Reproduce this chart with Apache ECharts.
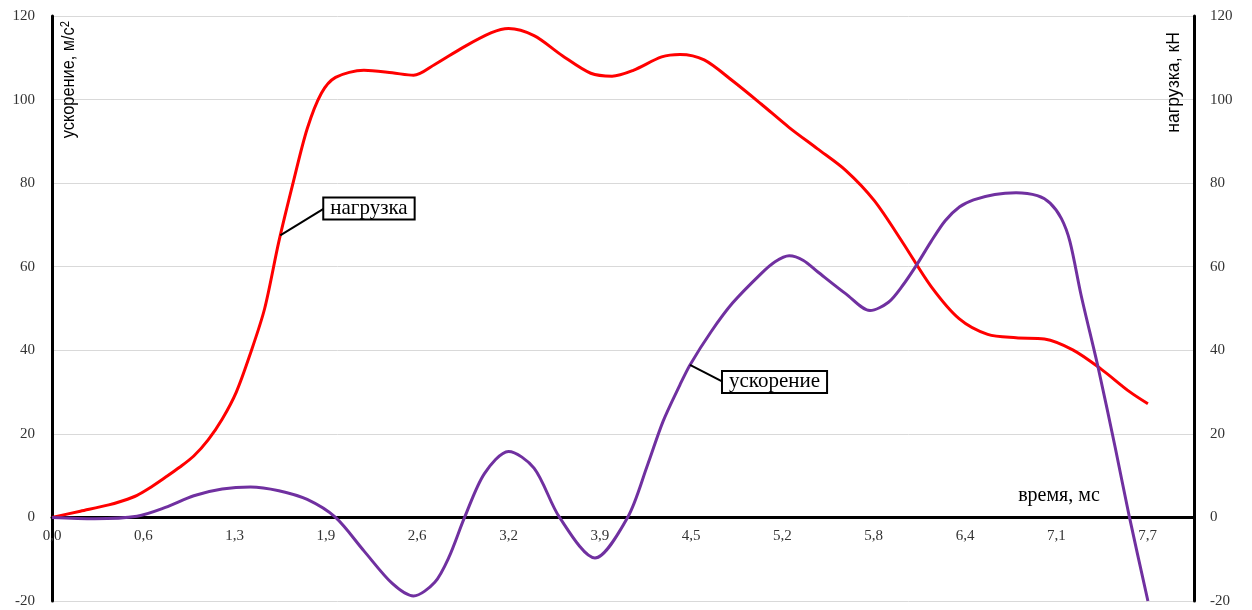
<!DOCTYPE html>
<html><head><meta charset="utf-8">
<script src="https://cdn.jsdelivr.net/npm/echarts@6/dist/echarts.min.js"></script>
<style>html,body{margin:0;padding:0;background:#fff}#c{width:1252px;height:610px}</style>
</head><body><div id="c"></div>
<script>
// X tick labels (time, ms) and their step
const xTickLabels = ['0,0','0,6','1,3','1,9','2,6','3,2','3,9','4,5','5,2','5,8','6,4','7,1','7,7'];
const xTickStep = 0.644;
const xMax = 8.055;
const yMin = -20, yMax = 120, yStep = 20;

// нагрузка, кН (red)
const loadTime  = [0, 0.2, 0.4, 0.5, 0.6, 0.7, 0.8, 0.9, 1.0, 1.1, 1.2, 1.3, 1.4, 1.5, 1.6, 1.7, 1.8, 1.9, 2.0, 2.2, 2.4, 2.55, 2.7, 2.9, 3.1, 3.22, 3.4, 3.6, 3.8, 3.95, 4.1, 4.3, 4.43, 4.6, 4.8, 5.0, 5.2, 5.4, 5.6, 5.8, 6.0, 6.2, 6.4, 6.6, 6.8, 7.0, 7.2, 7.4, 7.6, 7.73];
const loadValue = [0, 1.5, 3.0, 4.0, 5.3, 7.3, 9.6, 12.0, 14.7, 18.5, 23.5, 30, 39.3, 50, 66, 80, 93, 101.5, 105.3, 107, 106.4, 105.8, 108.4, 112.5, 116, 117, 115.3, 110.5, 106.3, 105.6, 107, 110.2, 110.8, 109.5, 104.5, 99, 93.3, 88.2, 83, 75.8, 65.8, 55.3, 47.5, 43.8, 43, 42.7, 40.1, 35.5, 30.1, 27.2];

// ускорение, м/с² (purple)
const accTime  = [0, 0.3, 0.6, 0.8, 1.0, 1.2, 1.4, 1.6, 1.8, 2.0, 2.2, 2.4, 2.55, 2.7, 2.8, 2.91, 3.05, 3.22, 3.4, 3.58, 3.83, 4.06, 4.2, 4.31, 4.43, 4.5, 4.65, 4.8, 5.0, 5.1, 5.2, 5.3, 5.4, 5.6, 5.77, 5.9, 6.0, 6.1, 6.2, 6.3, 6.4, 6.5, 6.65, 6.8, 6.95, 7.04, 7.12, 7.18, 7.26, 7.38, 7.5, 7.6, 7.73];
const accValue = [0, -0.3, 0.3, 2.4, 5.2, 6.8, 7.3, 6.4, 4.3, 0, -8, -15.8, -18.8, -15.5, -9.5, 0, 10.5, 15.8, 11.8, 0, -9.7, 0, 12.5, 23, 31.8, 36.5, 44.5, 51.3, 58.3, 61.2, 62.6, 61.5, 58.8, 53.5, 49.5, 51.5, 55.5, 60.5, 66, 71, 74.3, 76, 77.3, 77.7, 77, 75.2, 71.5, 66, 53, 35.7, 16.6, 0, -20];

// callout anchors (time, value)
const loadCallout = {text: 'нагрузка', t: 1.61, v: 67.5};
const accCallout  = {text: 'ускорение', t: 4.50, v: 36.5};

const SERIF = '"Liberation Serif","Times New Roman",serif';
const SANS = '"Liberation Sans",Arial,sans-serif';

const chart = echarts.init(document.getElementById('c'), null, {renderer: 'canvas'});
const axisLabelStyle = {fontFamily: SERIF, fontSize: 15, color: '#333'};

const gridTop = 16, gridBottom = 9;
const gridH = 610 - gridTop - gridBottom;
const zeroOffset = -gridH * (0 - yMin) / (yMax - yMin);

chart.setOption({
  animation: false,
  backgroundColor: '#fff',
  grid: {left: 52, right: 58, top: gridTop, bottom: gridBottom, containLabel: false, outerBoundsMode: 'none'},
  xAxis: {
    type: 'value', min: 0, max: xMax, interval: xTickStep, position: 'bottom', offset: zeroOffset,
    axisLine: {onZero: false, lineStyle: {color: '#000', width: 3}},
    axisTick: {show: false},
    splitLine: {show: false},
    axisLabel: Object.assign({}, axisLabelStyle, {
      margin: 11, showMaxLabel: false,
      formatter: v => { const i = Math.round(v / xTickStep); return xTickLabels[i] !== undefined && Math.abs(v - i * xTickStep) < 1e-6 ? xTickLabels[i] : ''; }
    })
  },
  yAxis: [
    {
      type: 'value', min: yMin, max: yMax, interval: yStep, position: 'left',
      axisLine: {show: true, onZero: false, lineStyle: {color: '#000', width: 3}},
      axisTick: {show: false},
      splitLine: {show: true, lineStyle: {color: '#d9d9d9', width: 1}},
      axisLabel: Object.assign({}, axisLabelStyle, {margin: 17})
    },
    {
      type: 'value', min: yMin, max: yMax, interval: yStep, position: 'right',
      axisLine: {show: true, onZero: false, lineStyle: {color: '#000', width: 3}},
      axisTick: {show: false},
      splitLine: {show: false},
      axisLabel: Object.assign({}, axisLabelStyle, {margin: 16})
    }
  ],
  series: [
    {
      name: 'нагрузка', type: 'line', yAxisIndex: 1, smooth: 0.3, showSymbol: false,
      lineStyle: {color: '#ff0000', width: 3}, itemStyle: {color: '#ff0000'},
      data: loadTime.map((t, i) => [t, loadValue[i]])
    },
    {
      name: 'ускорение', type: 'line', yAxisIndex: 0, smooth: 0.3, showSymbol: false,
      lineStyle: {color: '#7030a0', width: 3}, itemStyle: {color: '#7030a0'},
      data: accTime.map((t, i) => [t, accValue[i]])
    }
  ]
});

function callout(seriesIndex, c, dx, dy) {
  const p = chart.convertToPixel({seriesIndex: seriesIndex}, [c.t, c.v]);
  return [
    {type: 'line', z: 50, shape: {x1: p[0], y1: p[1], x2: p[0] + dx, y2: p[1] + dy}, style: {stroke: '#000', lineWidth: 2}},
    {type: 'text', z: 51, x: p[0] + dx, y: p[1] + dy, style: {
      text: c.text, font: '21px ' + SERIF, fill: '#000', align: 'left', verticalAlign: 'middle', lineHeight: 18,
      backgroundColor: '#fff', borderColor: '#000', borderWidth: 2, padding: [1, 6, 1, 6]
    }}
  ];
}

const graphics = [].concat(
  callout(0, loadCallout, 44, -27),
  callout(1, accCallout, 33, 17),
  [
    {type: 'text', z: 40, x: 69, y: 21, rotation: Math.PI / 2, scaleX: 0.86, style: {
      text: '{a|ускорение, м/с}{s|2}', align: 'right', verticalAlign: 'middle',
      rich: {a: {font: '19px ' + SANS, fill: '#000'}, s: {font: '13px ' + SANS, fill: '#000', verticalAlign: 'top', padding: [0, 0, 8, 0]}}
    }},
    {type: 'text', z: 40, x: 1174, y: 32, rotation: Math.PI / 2, scaleX: 0.93, style: {
      text: 'нагрузка, кН', font: '19px ' + SANS, fill: '#000', align: 'right', verticalAlign: 'middle'
    }},
    {type: 'text', z: 40, x: 1059, y: 496, style: {
      text: 'время, мс', font: '20px ' + SERIF, fill: '#000', align: 'center', verticalAlign: 'middle'
    }}
  ]
);
chart.setOption({graphic: graphics});
</script>
</body></html>
